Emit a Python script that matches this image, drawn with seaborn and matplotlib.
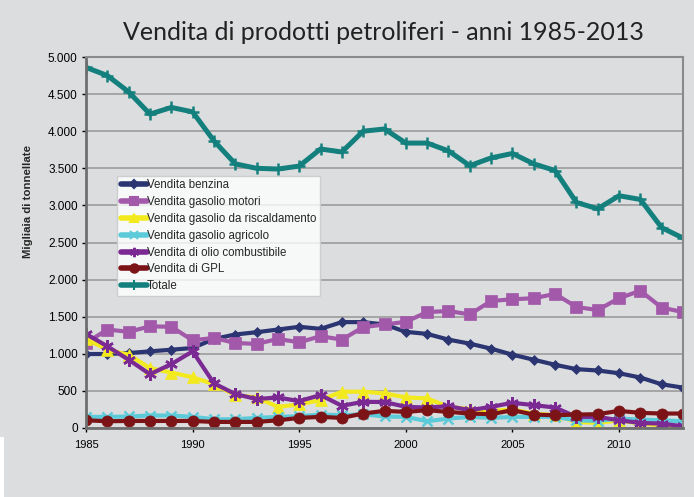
import numpy as np
import pandas as pd
import matplotlib
matplotlib.use("Agg")
import matplotlib.pyplot as plt
import matplotlib.ticker as mticker
from matplotlib.patches import Rectangle
import seaborn as sns

years = list(range(1985, 2014))

benzina = [997, 997, 1010, 1033, 1055, 1078, 1200, 1260, 1291, 1327, 1364, 1336, 1427, 1427, 1395,
           1296, 1268, 1191, 1137, 1069, 988, 920, 852, 793, 775, 738, 680, 589, 544]
gasolio_motori = [1146, 1327, 1296, 1370, 1364, 1182, 1214, 1146, 1133, 1200, 1155, 1237, 1191, 1359, 1395,
                  1431, 1563, 1576, 1531, 1712, 1735, 1749, 1807, 1631, 1590, 1749, 1850, 1622, 1563]
gasolio_risc = [1200, 1055, 988, 806, 747, 684, 589, 444, 412, 285, 317, 376, 489, 489, 467,
                412, 399, 285, 255, 231, 249, 195, 172, 82, 68, 104, 59, 36, 23]
gasolio_agricolo = [150, 150, 155, 168, 168, 150, 118, 118, 136, 150, 159, 181, 172, 186, 155,
                    150, 91, 127, 150, 136, 150, 150, 150, 104, 95, 127, 113, 104, 91]
olio_comb = [1268, 1101, 920, 725, 861, 1033, 602, 458, 390, 412, 362, 444, 299, 353, 350,
             285, 276, 294, 240, 285, 340, 308, 276, 150, 150, 104, 68, 59, 23]
gpl = [104, 91, 95, 95, 95, 95, 82, 82, 82, 104, 136, 150, 136, 195, 231,
       217, 240, 217, 195, 186, 240, 181, 172, 181, 186, 231, 204, 195, 195]
totale = [4860, 4750, 4530, 4230, 4320, 4260, 3870, 3560, 3500, 3490, 3530, 3760, 3720, 4000, 4030,
          3840, 3840, 3735, 3535, 3640, 3700, 3560, 3470, 3040, 2955, 3130, 3080, 2700, 2560]

series_names = ["Vendita benzina", "Vendita gasolio motori", "Vendita gasolio da riscaldamento",
                "Vendita gasolio agricolo", "Vendita di olio combustibile", "Vendita di GPL", "Totale"]
series_values = [benzina, gasolio_motori, gasolio_risc, gasolio_agricolo, olio_comb, gpl, totale]

colors = ["#2a3572", "#a259aa", "#f2ea1e", "#5ccbd9", "#7a2a92", "#7c1417", "#14807e"]
markers = ["D", "s", "^", "x", (6, 2, 0), "o", "+"]
msizes = [5, 8, 8, 7, 9, 8, 9]
lwidths = [3.0, 3.0, 3.0, 3.0, 3.0, 3.0, 3.6]

rows = []
for name, vals in zip(series_names, series_values):
    for y, v in zip(years, vals):
        rows.append({"Anno": y, "Valore": v, "Serie": name})
df = pd.DataFrame(rows)

bg = "#dcdddf"
sns.set_theme(style="white")
plt.rcParams["font.family"] = ["Liberation Sans", "DejaVu Sans"]

fig = plt.figure(figsize=(6.94, 4.97), dpi=100, facecolor=bg)
ax = fig.add_axes([86 / 694, 1 - 428 / 497, (683 - 86) / 694, (428 - 57) / 497])
ax.set_facecolor(bg)

sns.lineplot(data=df, x="Anno", y="Valore", hue="Serie", hue_order=series_names,
             palette=dict(zip(series_names, colors)), ax=ax, legend=False, linewidth=3.0)

for line, m, ms, c, lw in zip(ax.lines, markers, msizes, colors, lwidths):
    line.set_marker(m)
    line.set_markersize(ms)
    line.set_linewidth(lw)
    line.set_markerfacecolor(c)
    line.set_markeredgecolor(c)
    line.set_markeredgewidth(1.8 if m in ("x", "+", (6, 2, 0)) else 0.5)
    line.set_solid_joinstyle("round")

ax.set_xlim(1985, 2013)
ax.set_ylim(0, 5000)
ax.set_xticks([1985, 1990, 1995, 2000, 2005, 2010])
ax.set_yticks(np.arange(0, 5001, 500))
ax.yaxis.set_major_formatter(mticker.FuncFormatter(lambda v, p: f"{int(v):,}".replace(",", ".")))
ax.tick_params(axis="both", colors="#000000", length=3, width=1, direction="out",
               bottom=True, left=True, pad=3)
ax.tick_params(axis="x", labelsize=8, pad=6)
ax.tick_params(axis="y", labelsize=8.5)
ax.grid(axis="y", color="#9c9c9c", linewidth=1.2)
ax.set_axisbelow(True)
for s in ["left", "bottom"]:
    ax.spines[s].set_color("#6e6e6e")
    ax.spines[s].set_linewidth(2)
for s in ["top", "right"]:
    ax.spines[s].set_color("#8a8a8a")
    ax.spines[s].set_linewidth(1.5)
ax.set_xlabel("")
ax.set_ylabel("Migliaia di tonnellate", fontsize=8.2, fontweight="bold")
ax.yaxis.set_label_coords(-0.088, (428 - 201) / (428 - 57))

handles = [plt.Line2D([], [], color=c, marker=m, markersize=ms * 0.75, linewidth=4,
                      markeredgewidth=1.5, markerfacecolor=c, markeredgecolor=c)
           for c, m, ms in zip(colors, markers, msizes)]
leg = ax.legend(handles, series_names, loc="upper left", bbox_to_anchor=(0.052, 0.68),
                fontsize=8.3, frameon=True, fancybox=False, handlelength=2.3, handletextpad=0.0,
                labelspacing=0.42, borderpad=0.3, borderaxespad=0)
leg.get_frame().set_facecolor("white")
leg.get_frame().set_edgecolor("#c8c8c8")
leg.get_frame().set_linewidth(1)

fig.text(383 / 694, 1 - 33 / 497, "Vendita di prodotti petroliferi - anni 1985-2013",
         ha="center", va="center", fontsize=18, color="#222222", family=["Lato", "DejaVu Sans"])

fig.patches.append(Rectangle((0, 0), 4 / 694, (497 - 437) / 497, transform=fig.transFigure,
                             facecolor="white", edgecolor="none", zorder=-1))

fig.savefig("out.png", dpi=100, facecolor=bg)
